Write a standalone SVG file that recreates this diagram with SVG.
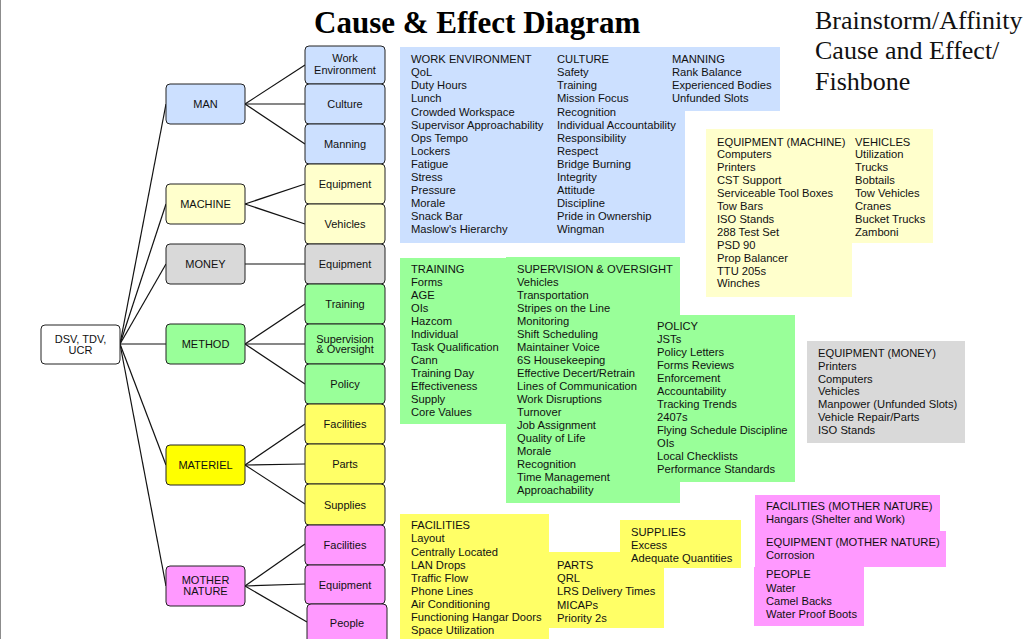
<svg xmlns="http://www.w3.org/2000/svg" width="1025" height="639" viewBox="0 0 1025 639">
<style>
.nd{stroke:#222;stroke-width:1;}
.nt{font-family:"Liberation Sans",Arial,sans-serif;font-size:11px;fill:#111;text-anchor:middle;}
.bt{font-family:"Liberation Sans",Arial,sans-serif;font-size:11.2px;fill:#111;}
.blue{fill:#CCE0FF;}
.lyel{fill:#FFFFCC;}
.gray{fill:#D9D9D9;}
.green{fill:#99FF99;}
.yel{fill:#FFFF00;}
.yel2{fill:#FFFF66;}
.pink{fill:#FF99FF;}
.cn{stroke:#111;stroke-width:1.2;fill:none;}
</style>
<rect x="0" y="0" width="1025" height="639" fill="#fff"/>
<line x1="0.5" y1="0" x2="0.5" y2="639" stroke="#8c8c8c" stroke-width="1"/>
<text x="314" y="33" font-family="'Liberation Serif','Times New Roman',serif" font-size="31" font-weight="bold" fill="#000">Cause &amp; Effect Diagram</text>
<g font-family="'Liberation Serif','Times New Roman',serif" font-size="26" fill="#111">
<text x="815" y="29">Brainstorm/Affinity</text>
<text x="815" y="59">Cause and Effect/</text>
<text x="815" y="90">Fishbone</text>
</g>

<g id="connectors">
<line class="cn" x1="120" y1="344" x2="166" y2="104"/>
<line class="cn" x1="120" y1="344" x2="166" y2="204"/>
<line class="cn" x1="120" y1="344" x2="166" y2="264"/>
<line class="cn" x1="120" y1="344" x2="166" y2="344"/>
<line class="cn" x1="120" y1="344" x2="166" y2="465"/>
<line class="cn" x1="120" y1="344" x2="166" y2="586"/>
<line class="cn" x1="245" y1="104" x2="305" y2="65"/>
<line class="cn" x1="245" y1="104" x2="305" y2="104"/>
<line class="cn" x1="245" y1="104" x2="305" y2="144"/>
<line class="cn" x1="245" y1="204" x2="305" y2="184"/>
<line class="cn" x1="245" y1="204" x2="305" y2="224"/>
<line class="cn" x1="245" y1="264" x2="305" y2="264"/>
<line class="cn" x1="245" y1="344" x2="305" y2="304"/>
<line class="cn" x1="245" y1="344" x2="305" y2="344"/>
<line class="cn" x1="245" y1="344" x2="305" y2="384"/>
<line class="cn" x1="245" y1="465" x2="305" y2="424"/>
<line class="cn" x1="245" y1="465" x2="305" y2="464"/>
<line class="cn" x1="245" y1="465" x2="305" y2="504"/>
<line class="cn" x1="245" y1="586" x2="305" y2="544"/>
<line class="cn" x1="245" y1="586" x2="305" y2="584"/>
<line class="cn" x1="245" y1="586" x2="307" y2="622"/>
</g>

<g id="root"><rect class="nd" x="41" y="325" width="79" height="39" rx="4" fill="#fff"/><text class="nt" x="80.5" y="342.5">DSV, TDV,</text><text class="nt" x="80.5" y="353.5">UCR</text></g>

<g id="man"><rect class="nd blue" x="166" y="84" width="79" height="40" rx="4"/><text class="nt" x="205.5" y="108">MAN</text></g>
<g id="machine"><rect class="nd lyel" x="166" y="184" width="79" height="40" rx="4"/><text class="nt" x="205.5" y="208">MACHINE</text></g>
<g id="money"><rect class="nd gray" x="166" y="244" width="79" height="40" rx="4"/><text class="nt" x="205.5" y="268">MONEY</text></g>
<g id="method"><rect class="nd green" x="166" y="324" width="79" height="40" rx="4"/><text class="nt" x="205.5" y="348">METHOD</text></g>
<g id="materiel"><rect class="nd yel" x="166" y="445" width="79" height="40" rx="4"/><text class="nt" x="205.5" y="469">MATERIEL</text></g>
<g id="mothernature"><rect class="nd pink" x="166" y="566" width="79" height="40" rx="4"/><text class="nt" x="205.5" y="583.5">MOTHER</text><text class="nt" x="205.5" y="595">NATURE</text></g>

<g id="work-environment"><rect class="nd blue" x="305" y="46" width="80" height="38" rx="4"/><text class="nt" x="345" y="62">Work</text><text class="nt" x="345" y="74">Environment</text></g>
<g id="culture"><rect class="nd blue" x="305" y="84" width="80" height="40" rx="4"/><text class="nt" x="345" y="108">Culture</text></g>
<g id="manning"><rect class="nd blue" x="305" y="124" width="80" height="40" rx="4"/><text class="nt" x="345" y="148">Manning</text></g>
<g id="equipment-machine"><rect class="nd lyel" x="305" y="164" width="80" height="40" rx="4"/><text class="nt" x="345" y="188">Equipment</text></g>
<g id="vehicles"><rect class="nd lyel" x="305" y="204" width="80" height="40" rx="4"/><text class="nt" x="345" y="228">Vehicles</text></g>
<g id="equipment-money"><rect class="nd gray" x="305" y="244" width="80" height="40" rx="4"/><text class="nt" x="345" y="268">Equipment</text></g>
<g id="training"><rect class="nd green" x="305" y="284" width="80" height="40" rx="4"/><text class="nt" x="345" y="308">Training</text></g>
<g id="supervision"><rect class="nd green" x="305" y="324" width="80" height="40" rx="4"/><text class="nt" x="345" y="342.5">Supervision</text><text class="nt" x="345" y="353">&amp; Oversight</text></g>
<g id="policy"><rect class="nd green" x="305" y="364" width="80" height="40" rx="4"/><text class="nt" x="345" y="388">Policy</text></g>
<g id="facilities-materiel"><rect class="nd yel2" x="305" y="404" width="80" height="40" rx="4"/><text class="nt" x="345" y="428">Facilities</text></g>
<g id="parts"><rect class="nd yel2" x="305" y="444" width="80" height="40" rx="4"/><text class="nt" x="345" y="468">Parts</text></g>
<g id="supplies"><rect class="nd yel2" x="305" y="484" width="80" height="41" rx="4"/><text class="nt" x="345" y="508.5">Supplies</text></g>
<g id="facilities-mn"><rect class="nd pink" x="305" y="525" width="80" height="40" rx="4"/><text class="nt" x="345" y="549">Facilities</text></g>
<g id="equipment-mn"><rect class="nd pink" x="305" y="565" width="80" height="39" rx="4"/><text class="nt" x="345" y="588.5">Equipment</text></g>
<g id="people"><rect class="nd pink" x="307" y="604" width="80" height="40" rx="4"/><text class="nt" x="347" y="627">People</text></g>

<g id="man-notes">
<rect class="blue" x="400" y="47" width="285" height="196"/>
<rect class="blue" x="665" y="47" width="115" height="64"/>
<text class="bt" y="63.3"><tspan x="411">WORK ENVIRONMENT</tspan><tspan x="411" dy="13.05">QoL</tspan><tspan x="411" dy="13.05">Duty Hours</tspan><tspan x="411" dy="13.05">Lunch</tspan><tspan x="411" dy="13.05">Crowded Workspace</tspan><tspan x="411" dy="13.05">Supervisor Approachability</tspan><tspan x="411" dy="13.05">Ops Tempo</tspan><tspan x="411" dy="13.05">Lockers</tspan><tspan x="411" dy="13.05">Fatigue</tspan><tspan x="411" dy="13.05">Stress</tspan><tspan x="411" dy="13.05">Pressure</tspan><tspan x="411" dy="13.05">Morale</tspan><tspan x="411" dy="13.05">Snack Bar</tspan><tspan x="411" dy="13.05">Maslow's Hierarchy</tspan></text>
<text class="bt" y="63.3"><tspan x="557">CULTURE</tspan><tspan x="557" dy="13.05">Safety</tspan><tspan x="557" dy="13.05">Training</tspan><tspan x="557" dy="13.05">Mission Focus</tspan><tspan x="557" dy="13.05">Recognition</tspan><tspan x="557" dy="13.05">Individual Accountability</tspan><tspan x="557" dy="13.05">Responsibility</tspan><tspan x="557" dy="13.05">Respect</tspan><tspan x="557" dy="13.05">Bridge Burning</tspan><tspan x="557" dy="13.05">Integrity</tspan><tspan x="557" dy="13.05">Attitude</tspan><tspan x="557" dy="13.05">Discipline</tspan><tspan x="557" dy="13.05">Pride in Ownership</tspan><tspan x="557" dy="13.05">Wingman</tspan></text>
<text class="bt" y="63"><tspan x="672">MANNING</tspan><tspan x="672" dy="13.05">Rank Balance</tspan><tspan x="672" dy="13.05">Experienced Bodies</tspan><tspan x="672" dy="13.05">Unfunded Slots</tspan></text>
</g>

<g id="machine-notes">
<rect class="lyel" x="706" y="129" width="227" height="114"/>
<rect class="lyel" x="706" y="129" width="146" height="168"/>
<text class="bt" y="145.5"><tspan x="717">EQUIPMENT (MACHINE)</tspan><tspan x="717" dy="12.9">Computers</tspan><tspan x="717" dy="12.9">Printers</tspan><tspan x="717" dy="12.9">CST Support</tspan><tspan x="717" dy="12.9">Serviceable Tool Boxes</tspan><tspan x="717" dy="12.9">Tow Bars</tspan><tspan x="717" dy="12.9">ISO Stands</tspan><tspan x="717" dy="12.9">288 Test Set</tspan><tspan x="717" dy="12.9">PSD 90</tspan><tspan x="717" dy="12.9">Prop Balancer</tspan><tspan x="717" dy="12.9">TTU 205s</tspan><tspan x="717" dy="12.9">Winches</tspan></text>
<text class="bt" y="145.5"><tspan x="855">VEHICLES</tspan><tspan x="855" dy="12.9">Utilization</tspan><tspan x="855" dy="12.9">Trucks</tspan><tspan x="855" dy="12.9">Bobtails</tspan><tspan x="855" dy="12.9">Tow Vehicles</tspan><tspan x="855" dy="12.9">Cranes</tspan><tspan x="855" dy="12.9">Bucket Trucks</tspan><tspan x="855" dy="12.9">Zamboni</tspan></text>
</g>

<g id="money-notes">
<rect class="gray" x="807" y="341" width="158" height="102"/>
<text class="bt" y="356.7"><tspan x="818">EQUIPMENT (MONEY)</tspan><tspan x="818" dy="12.9">Printers</tspan><tspan x="818" dy="12.9">Computers</tspan><tspan x="818" dy="12.9">Vehicles</tspan><tspan x="818" dy="12.9">Manpower (Unfunded Slots)</tspan><tspan x="818" dy="12.9">Vehicle Repair/Parts</tspan><tspan x="818" dy="12.9">ISO Stands</tspan></text>
</g>

<g id="method-notes">
<rect class="green" x="400" y="258" width="110" height="166"/>
<rect class="green" x="506" y="257" width="174" height="246"/>
<rect class="green" x="650" y="315" width="145" height="167"/>
<text class="bt" y="272.7"><tspan x="411">TRAINING</tspan><tspan x="411" dy="13">Forms</tspan><tspan x="411" dy="13">AGE</tspan><tspan x="411" dy="13">OIs</tspan><tspan x="411" dy="13">Hazcom</tspan><tspan x="411" dy="13">Individual</tspan><tspan x="411" dy="13">Task Qualification</tspan><tspan x="411" dy="13">Cann</tspan><tspan x="411" dy="13">Training Day</tspan><tspan x="411" dy="13">Effectiveness</tspan><tspan x="411" dy="13">Supply</tspan><tspan x="411" dy="13">Core Values</tspan></text>
<text class="bt" y="272.7"><tspan x="517">SUPERVISION &amp; OVERSIGHT</tspan><tspan x="517" dy="13.04">Vehicles</tspan><tspan x="517" dy="13.04">Transportation</tspan><tspan x="517" dy="13.04">Stripes on the Line</tspan><tspan x="517" dy="13.04">Monitoring</tspan><tspan x="517" dy="13.04">Shift Scheduling</tspan><tspan x="517" dy="13.04">Maintainer Voice</tspan><tspan x="517" dy="13.04">6S Housekeeping</tspan><tspan x="517" dy="13.04">Effective Decert/Retrain</tspan><tspan x="517" dy="13.04">Lines of Communication</tspan><tspan x="517" dy="13.04">Work Disruptions</tspan><tspan x="517" dy="13.04">Turnover</tspan><tspan x="517" dy="13.04">Job Assignment</tspan><tspan x="517" dy="13.04">Quality of Life</tspan><tspan x="517" dy="13.04">Morale</tspan><tspan x="517" dy="13.04">Recognition</tspan><tspan x="517" dy="13.04">Time Management</tspan><tspan x="517" dy="13.04">Approachability</tspan></text>
<text class="bt" y="330"><tspan x="657">POLICY</tspan><tspan x="657" dy="13">JSTs</tspan><tspan x="657" dy="13">Policy Letters</tspan><tspan x="657" dy="13">Forms Reviews</tspan><tspan x="657" dy="13">Enforcement</tspan><tspan x="657" dy="13">Accountability</tspan><tspan x="657" dy="13">Tracking Trends</tspan><tspan x="657" dy="13">2407s</tspan><tspan x="657" dy="13">Flying Schedule Discipline</tspan><tspan x="657" dy="13">OIs</tspan><tspan x="657" dy="13">Local Checklists</tspan><tspan x="657" dy="13">Performance Standards</tspan></text>
</g>

<g id="materiel-notes">
<rect class="yel2" x="400" y="514" width="149" height="125"/>
<rect class="yel2" x="549" y="552" width="115" height="76"/>
<rect class="yel2" x="620" y="520" width="121" height="48"/>
<text class="bt" y="529.3"><tspan x="411">FACILITIES</tspan><tspan x="411" dy="13.1">Layout</tspan><tspan x="411" dy="13.1">Centrally Located</tspan><tspan x="411" dy="13.1">LAN Drops</tspan><tspan x="411" dy="13.1">Traffic Flow</tspan><tspan x="411" dy="13.1">Phone Lines</tspan><tspan x="411" dy="13.1">Air Conditioning</tspan><tspan x="411" dy="13.1">Functioning Hangar Doors</tspan><tspan x="411" dy="13.1">Space Utilization</tspan></text>
<text class="bt" y="569"><tspan x="557">PARTS</tspan><tspan x="557" dy="13.2">QRL</tspan><tspan x="557" dy="13.2">LRS Delivery Times</tspan><tspan x="557" dy="13.2">MICAPs</tspan><tspan x="557" dy="13.2">Priority 2s</tspan></text>
<text class="bt" y="535.5"><tspan x="631">SUPPLIES</tspan><tspan x="631" dy="13.4">Excess</tspan><tspan x="631" dy="13.4">Adequate Quantities</tspan></text>
</g>

<g id="mothernature-notes">
<rect class="pink" x="755" y="495" width="185" height="36"/>
<rect class="pink" x="755" y="531" width="191" height="36"/>
<rect class="pink" x="754" y="567" width="110" height="59"/>
<text class="bt" y="510"><tspan x="766">FACILITIES (MOTHER NATURE)</tspan><tspan x="766" dy="13.3">Hangars (Shelter and Work)</tspan></text>
<text class="bt" y="546"><tspan x="766">EQUIPMENT (MOTHER NATURE)</tspan><tspan x="766" dy="13.3">Corrosion</tspan></text>
<text class="bt" y="578.3"><tspan x="766">PEOPLE</tspan><tspan x="766" dy="13.3">Water</tspan><tspan x="766" dy="13.3">Camel Backs</tspan><tspan x="766" dy="13.3">Water Proof Boots</tspan></text>
</g>
</svg>
